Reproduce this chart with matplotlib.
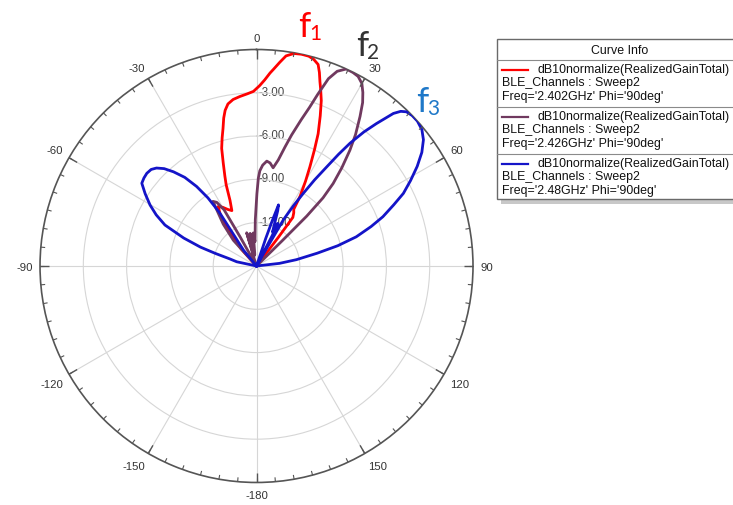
import numpy as np
import matplotlib
matplotlib.use("Agg")
import matplotlib.pyplot as plt
from matplotlib.patches import Rectangle
from matplotlib.lines import Line2D
from matplotlib.transforms import offset_copy

# ---- data: (theta in deg, dB) ----
red_theta = [-48, -42, -38, -35, -32.8, -30, -27, -24, -22, -20.5, -19.4, -17.9, -16.5, -15,
             -13.7, -12.5, -11.4, -10, -8, -5.6, -3, -1, 1, 2.5, 4, 5, 6.5, 8, 10, 12, 14,
             15.5, 17, 18, 19, 20, 21.4, 23, 25, 26.5, 28.3, 30, 32, 33.3, 35, 36.8, 37.3, 37.8]
red_db = [-15, -13.4, -11.8, -10.6, -10.1, -10.3, -10.6, -10.8, -10.1, -9.0, -8.4, -7.5, -6.5, -5.8,
          -5.2, -4.5, -4.0, -3.6, -3.35, -3.2, -3.05, -2.9, -2.5, -2.1, -1.6, -1.3, -0.8, -0.3, -0.05, 0, -0.02,
          -0.15, -0.4, -0.9, -1.5, -2.0, -2.7, -3.7, -4.9, -6.0, -7.2, -8.2, -9.3, -10.3, -10.5, -10.8, -12.5, -15]

purple_theta = [-46, -42, -38.5, -36.5, -34, -32, -30, -29.4, -28.5, -18, -16.5, -14, -11, -8.5,
                -5.6, -3.5, -1.5, 0.3, 1.2, 2.0, 3.5, 5.6, 7.5, 9.6, 11.6, 13.5, 15, 17, 18.5, 19.6,
                21, 22.5, 24.5, 26.5, 28.2, 30, 31.5, 33, 34.7, 37, 38.9, 41, 42.9, 44.3, 45.2, 45.5, 46]
purple_db = [-15, -12.6, -11.3, -10.7, -9.6, -9.8, -10.5, -12.7, -15, -14.6, -12.6, -14.3, -12.7, -14.2,
             -12.7, -13.3, -11.8, -10.0, -8.9, -8.4, -8.0, -7.7, -7.8, -8.1, -7.5, -6.5, -5.6, -4.4, -3.4, -2.4,
             -1.1, -0.4, 0, -0.02, -0.1, -0.4, -0.9, -1.5, -2.4, -3.6, -4.7, -6.0, -7.2, -8.4, -10.1, -12.5, -15]

blue_theta = [-90, -78, -75.2, -73, -71.4, -69, -65.9, -63, -60.2, -57, -54.2, -52, -49.8, -47.5, -45.6,
              -43.5, -41.4, -39, -37, -35.5, -34.7, -36, -39.5, -38, 18, 18.5, 19.2, 19.8, 21, 22.5,
              24, 25.3, 26.5, 27.3, 28, 29.8, 30.2, 31.5, 32.8, 34, 35.3, 36.3, 37.3, 38.7, 40.1, 41.9,
              43, 44.2, 46, 48, 50.5, 52.9, 55.5, 58.2, 61, 63.7, 66, 68.7, 71, 73.7, 76, 78.1, 81, 83.5, 88]
blue_db = [-15, -13.6, -13.1, -12.0, -10.9, -9.6, -8.05, -7.2, -6.5, -5.8, -5.2, -5.1, -5.05, -5.1, -5.3,
           -5.7, -6.3, -7.1, -8.1, -9.2, -10.5, -12.2, -13.6, -15, -15, -13, -11.6, -10.5, -10.9, -11.6,
           -12.1, -12.4, -11.7, -12.6, -15, -14, -11.3, -10.1, -9.0, -7.8, -6.6, -5.4, -4.3, -3.1, -2.1, -0.8,
           -0.35, -0.1, 0, 0, -0.15, -0.5, -1.1, -1.9, -2.8, -3.65, -4.6, -5.6, -6.6, -7.8, -9.2, -10.7, -12.2, -13.4, -15]

curve_colors = ["#ff0000", "#70395f", "#1414c8"]
freqs = ["2.402GHz", "2.426GHz", "2.48GHz"]
theta_ticks = np.arange(0, 360, 30)
theta_labels = ["0", "30", "60", "90", "120", "150", "-180", "-150", "-120", "-90", "-60", "-30"]
r_ticks = [-12, -9, -6, -3]

W, H = 733, 505
fig = plt.figure(figsize=(W / 100, H / 100), dpi=100)
ax = fig.add_axes([0.0546, 0.0446, 0.5907, 0.8574], projection="polar")
ax.set_theta_zero_location("N")
ax.set_theta_direction(-1)
ax.set_ylim(-15, 0)

ax.set_xticks(np.deg2rad(theta_ticks))
ax.set_xticklabels([])
ax.tick_params(axis="x", length=0)
ax.set_yticks(r_ticks)
ax.set_yticklabels([])
ax.grid(True, color="#d6d6d6", lw=0.8)
ax.spines["polar"].set_color("#555555")
ax.spines["polar"].set_linewidth(1.2)

# inward ticks on the rim: every 5 deg, longer every 30 deg
ax.vlines(np.deg2rad(np.arange(0, 360, 5)), -0.3, 0, color="#555555", lw=0.8, clip_on=False, zorder=4)
ax.vlines(np.deg2rad(theta_ticks), -0.65, 0, color="#555555", lw=1.0, clip_on=False, zorder=4)

# angle labels just outside the rim
for deg, lab in zip(theta_ticks, theta_labels):
    s, c = np.sin(np.deg2rad(deg)), np.cos(np.deg2rad(deg))
    ha = "left" if s > 0.1 else ("right" if s < -0.1 else "center")
    va = "bottom" if c > 0.1 else ("top" if c < -0.1 else "center")
    t = offset_copy(ax.transData, fig=fig, x=7 * s, y=7 * c - 2, units="dots")
    ax.text(np.deg2rad(deg), 0, lab, transform=t, ha=ha, va=va, fontsize=8.2,
            color="#333333", family="Liberation Sans", clip_on=False)

tr = offset_copy(ax.transData, fig=fig, x=2, y=0, units="dots")
for r in r_ticks:
    ax.text(0, r, f"{r:.2f}", transform=tr, ha="left", va="center", fontsize=8.3,
            color="#444444", family="Liberation Sans", zorder=1)

for th, db, c in [(red_theta, red_db, curve_colors[0]),
                  (purple_theta, purple_db, curve_colors[1]),
                  (blue_theta, blue_db, curve_colors[2])]:
    ax.plot(np.deg2rad(th), db, color=c, lw=2.0, zorder=3)


def px(x, y):
    return x / W, 1 - y / H


# f labels
flab = [("1", "#ff0000", 298, 37), ("2", "#333333", 356, 56), ("3", "#1f78c8", 416, 112)]
for sub, c, x, y in flab:
    fig.text(*px(x, y), "f", color=c, fontsize=25, family="Lato", va="baseline")
    fig.text(*px(x + 11, y + 3), sub, color=c, fontsize=15, family="Lato", va="baseline")

# legend box
lx0, ly0, lx1, ly1 = 497, 39, 745, 199
fig.patches.append(Rectangle(px(lx0 + 4, ly1 + 5), (lx1 - lx0) / W, (ly1 - ly0) / H,
                             transform=fig.transFigure, facecolor="#c8c8c8", edgecolor="none", zorder=0))
fig.patches.append(Rectangle(px(lx0, ly1), (lx1 - lx0) / W, (ly1 - ly0) / H,
                             transform=fig.transFigure, facecolor="white", edgecolor="#6a6a6a", lw=1, zorder=1))
lfont = dict(fontsize=8.9, family="Liberation Sans", color="#111111")
fig.text(*px(620, 50.5), "Curve Info", ha="center", va="center", **lfont)
for ys in [60, 106.5, 154]:
    fig.add_artist(Line2D([lx0 / W, lx1 / W], [1 - ys / H] * 2, color="#8a8a8a", lw=0.8,
                          transform=fig.transFigure))
for i, (c, f) in enumerate(zip(curve_colors, freqs)):
    y = 70 + i * 47
    fig.add_artist(Line2D([502 / W, 528 / W], [1 - y / H] * 2, color=c, lw=1.6, transform=fig.transFigure))
    fig.text(*px(537, y), "dB10normalize(RealizedGainTotal)", va="center", **lfont)
    fig.text(*px(502, y + 13.3), "BLE_Channels : Sweep2", va="center", **lfont)
    fig.text(*px(502, y + 26.6), f"Freq='{f}' Phi='90deg'", va="center", **lfont)

fig.savefig("out.png", dpi=100)
